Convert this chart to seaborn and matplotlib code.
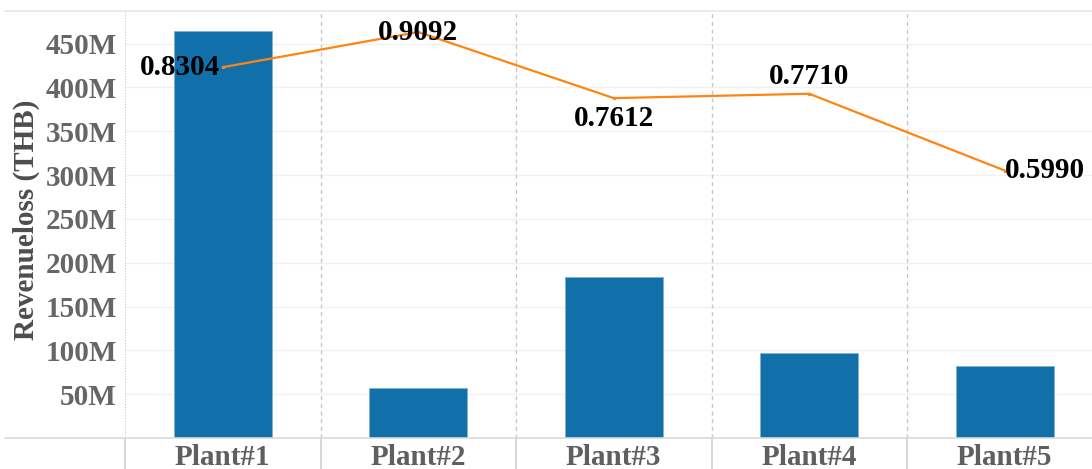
"""
Revenue loss per plant (bars) with ratio line on a hidden twin axis.
"""

import numpy as np
import pandas as pd
import matplotlib
matplotlib.use("Agg")
import matplotlib.pyplot as plt
import seaborn as sns

# Dados
plants = ["Plant#1", "Plant#2", "Plant#3", "Plant#4", "Plant#5"]
revenue_loss = [464.6e6, 56.5e6, 183.3e6, 96.8e6, 81.7e6]
ratio = [0.8304, 0.9092, 0.7612, 0.7710, 0.5990]
ratio_labels = ["0.8304", "0.9092", "0.7612", "0.7710", "0.5990"]
y_ticks = [50e6, 100e6, 150e6, 200e6, 250e6, 300e6, 350e6, 400e6, 450e6]

BAR_COLOR = "#1170AA"
LINE_COLOR = "#FF8412"
GRID = "#d9d9d9"
FONT = "Liberation Serif"


def main():
    sns.set_theme(style="white")
    plt.rcParams["font.family"] = [FONT, "DejaVu Serif"]
    plt.rcParams["font.weight"] = "bold"

    df = pd.DataFrame({"plant": plants, "loss": revenue_loss, "ratio": ratio})

    W, H = 1092, 469
    fig = plt.figure(figsize=(W / 100, H / 100), dpi=100)
    left, right = 125 / W, 1102.5 / W
    bottom, top = (H - 438) / H, (H - 10.7) / H
    ax = fig.add_axes([left, bottom, right - left, top - bottom])

    # Barras
    sns.barplot(data=df, x="plant", y="loss", order=plants, color=BAR_COLOR,
                width=0.5, saturation=1, edgecolor="#7fb2d6", linewidth=0.6, ax=ax)
    ax.set_xlim(-0.5, len(plants) - 0.5)
    ax.set_ylim(0, 487.5e6)

    for s in ax.spines.values():
        s.set_visible(False)

    # Grade horizontal leve
    ax.set_yticks(y_ticks)
    ax.set_yticklabels([f"{int(v / 1e6)}M" for v in y_ticks])
    for v in y_ticks:
        ax.axhline(v, color="#f1f1f1", linewidth=1, zorder=0)

    # Linhas de topo e base (estendem à esquerda, estilo tableau)
    ext = -(125 - 5) / 977.5
    ax.axhline(0, xmin=ext, xmax=1, color=GRID, linewidth=1.2, clip_on=False, zorder=3)
    ax.axhline(487.5e6, xmin=ext, xmax=1, color="#e6e6e6", linewidth=1.2, clip_on=False, zorder=3)

    # Divisórias entre categorias
    below = -(H - 438) / 427.3
    for i, b in enumerate(np.arange(len(plants)) - 0.5):
        if i == 0:
            ax.axvline(b, color="#c8c8c8", linewidth=0.8, linestyle=(0, (1, 1.5)), zorder=0)
        else:
            ax.axvline(b, color="#c8c8c8", linewidth=1, linestyle=(0, (3, 2.5)), zorder=0)
        ax.axvline(b, ymin=below, ymax=0, color="#d0d0d0", linewidth=1.2, clip_on=False)

    ax.tick_params(axis="both", length=0)
    ax.tick_params(axis="y", pad=6, labelsize=21, labelcolor="#666666")
    ax.tick_params(axis="x", pad=4, labelsize=21, labelcolor="#5f5f5f")
    for lbl in ax.get_xticklabels() + ax.get_yticklabels():
        lbl.set_fontweight("bold")

    ax.set_xlabel("")
    ax.set_ylabel("Revenueloss (THB)", fontsize=21, fontweight="bold", color="#4d4d4d")
    ax.yaxis.set_label_coords(-0.087, 0.51)

    # Linha do índice em eixo secundário oculto
    ax2 = ax.twinx()
    sns.lineplot(x=np.arange(len(plants)), y=ratio, ax=ax2, color=LINE_COLOR,
                 linewidth=1.6, marker="o", markersize=2.5, markeredgewidth=0)
    ax2.set_ylim(0, 0.957)
    ax2.set_yticks([])
    for s in ax2.spines.values():
        s.set_visible(False)

    # Posição dos rótulos: (ha, va, dx, dy) em pontos
    placements = [
        ("right", "center", -2, 0),
        ("center", "center", 0, 0),
        ("center", "top", 0, -5),
        ("center", "bottom", 0, 3),
        ("left", "center", 0, 0),
    ]
    for i, (txt, (ha, va, dx, dy)) in enumerate(zip(ratio_labels, placements)):
        ax2.annotate(txt, (i, ratio[i]), xytext=(dx, dy), textcoords="offset points",
                     ha=ha, va=va, fontsize=21, fontweight="bold", color="black")

    fig.savefig("out.png", dpi=100)


if __name__ == "__main__":
    main()
